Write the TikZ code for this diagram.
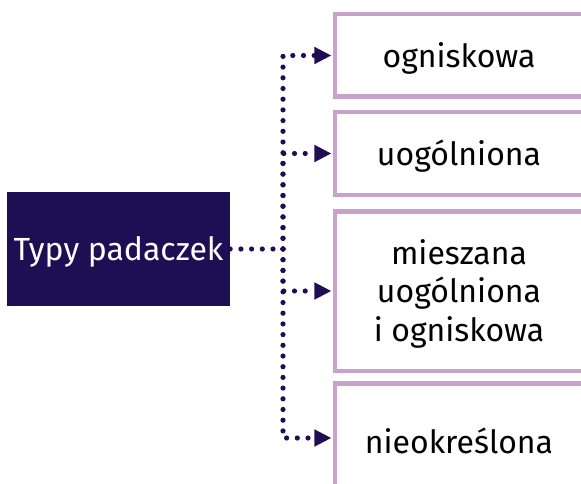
\documentclass[tikz,border=0pt]{standalone}
\usepackage{fontspec}
\setmainfont{Fira Sans}
\usetikzlibrary{arrows.meta}
\definecolor{navy}{HTML}{1E0F55}
\definecolor{lilac}{HTML}{C9A1CB}
\tikzset{
  leftbox/.style={fill=navy, draw=none, minimum width=223pt, minimum height=114pt, inner sep=0pt, text=white, font=\fontsize{32}{38}\selectfont},
  rbox/.style={draw=lilac, line width=4.5pt, fill=none, inner sep=0pt},
  lbl/.style={text=black, font=\fontsize{32}{38.5}\selectfont, align=center, inner sep=0pt},
  dotline/.style={navy, line width=5.2pt, line cap=round, dash pattern=on 0pt off 10.7pt},
  arr/.style={dotline, -{Triangle[length=17pt,width=16pt]}, shorten >=1.5pt}
}
\begin{document}
\begin{tikzpicture}[x=1pt,y=-1pt]
\useasboundingbox (0,0) rectangle (581,484);
\node[leftbox, text depth=0pt, text height=0pt] (L) at (118.5,249) {};
\node[text=white, font=\fontsize{32}{38}\selectfont, inner sep=0pt] (Lt) at (118.5,251.5) {Typy padaczek};
\node[rbox, minimum width=364.75pt, minimum height=82.5pt] (b1) at (517.6,55.5) {};
\node[rbox, minimum width=364.75pt, minimum height=82.5pt] (b2) at (517.6,153.5) {};
\node[rbox, minimum width=364.75pt, minimum height=159.5pt] (b3) at (517.6,291) {};
\node[rbox, minimum width=364.75pt, minimum height=109.5pt] (b4) at (517.6,438) {};
\node[lbl] (t1) at (459,58) {ogniskowa};
\node[lbl] (t2) at (459,156) {uogólniona};
\node[lbl] (t3) at (459,293.5) {mieszana\\uogólniona\\i ogniskowa};
\node[lbl] (t4) at (459,440.5) {nieokreślona};
\coordinate (j) at (283,249);
\draw[dotline] (L.east) -- (j);
\draw[arr] (j) |- (b1.west);
\draw[arr] (j) |- (b2.west);
\draw[arr] (j) |- (b3.west);
\draw[arr] (j) |- (b4.west);
\end{tikzpicture}
\end{document}
